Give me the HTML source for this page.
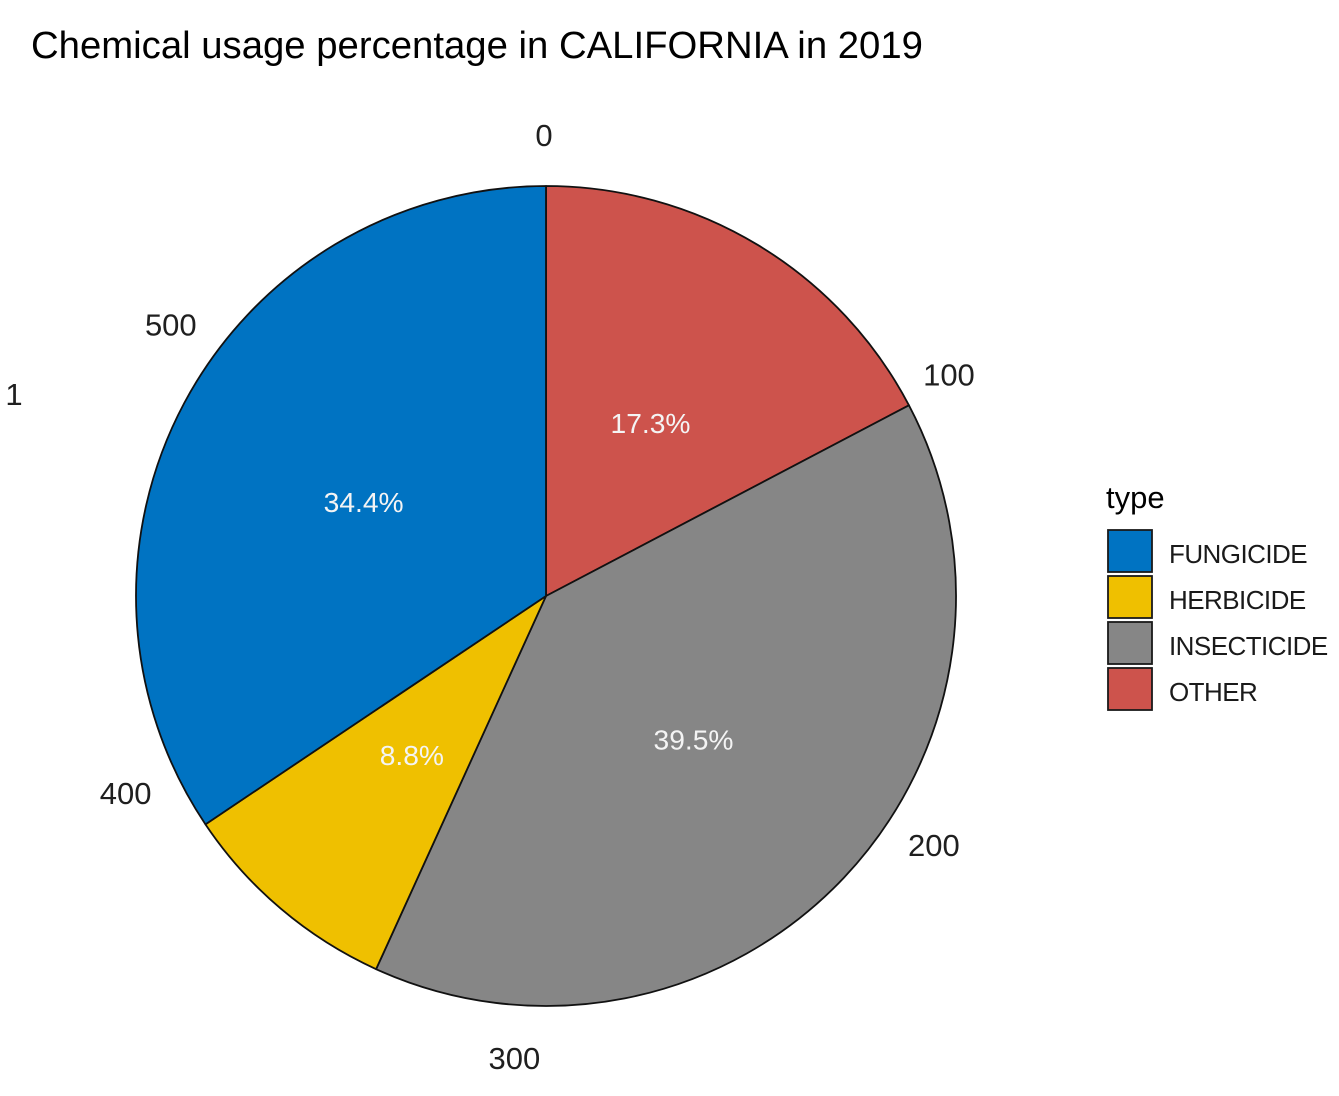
<!DOCTYPE html>
<html lang="en">
<head>
<meta charset="utf-8">
<title>Chemical usage percentage in CALIFORNIA in 2019</title>
<style>
html,body{margin:0;padding:0;background:#fff;}
body{width:1339px;height:1096px;overflow:hidden;}
svg{display:block;font-family:"Liberation Sans",Arial,sans-serif;}
</style>
</head>
<body>
<svg id="chart" xmlns="http://www.w3.org/2000/svg" width="1339" height="1096" viewBox="0 0 1339 1096">
  <rect x="0" y="0" width="1339" height="1096" fill="#ffffff"/>
  <text x="31" y="58" font-size="38.3" fill="#000000">Chemical usage percentage in CALIFORNIA in 2019</text>
  <g id="slices"></g>
  <g id="slice-labels"></g>
  <g id="ticks"></g>
  <text x="14" y="405" font-size="31" fill="#1f1f1f" text-anchor="middle">1</text>
  <g id="legend">
    <text x="1106" y="508" font-size="31" fill="#000000">type</text>
  </g>
</svg>
<script>
const legendTypes = ['FUNGICIDE', 'HERBICIDE', 'INSECTICIDE', 'OTHER'];
const legendColors = ['#0073C2', '#EFC000', '#868686', '#CD534C'];
const sliceTypes = ['OTHER', 'INSECTICIDE', 'HERBICIDE', 'FUNGICIDE'];
const sliceShares = [17.3, 39.5, 8.8, 34.4];
const tickValues = [0, 100, 200, 300, 400, 500];
const axisTotal = 588;

const NS = 'http://www.w3.org/2000/svg';
const CX = 546, CY = 596, R = 410, LABEL_R = 205, TICK_R = 462;
const shareTotal = sliceShares.reduce(function (a, b) { return a + b; }, 0);

function colorFor(type) { return legendColors[legendTypes.indexOf(type)]; }
function polar(angle, r) { return [CX + r * Math.sin(angle), CY - r * Math.cos(angle)]; }
function shareAngle(v) { return v / shareTotal * 2 * Math.PI; }
function tickAngle(v) { return v / axisTotal * 2 * Math.PI; }
function make(tag, attrs, text) {
  const el = document.createElementNS(NS, tag);
  Object.keys(attrs).forEach(function (k) { el.setAttribute(k, attrs[k]); });
  if (text !== undefined) el.textContent = text;
  return el;
}

const slicesG = document.getElementById('slices');
const sliceLabelsG = document.getElementById('slice-labels');
let cum = 0;
sliceShares.forEach(function (v, i) {
  const a0 = shareAngle(cum), a1 = shareAngle(cum + v), mid = (a0 + a1) / 2;
  const p0 = polar(a0, R), p1 = polar(a1, R);
  const large = (a1 - a0) > Math.PI ? 1 : 0;
  const d = 'M' + CX + ' ' + CY + 'L' + p0[0] + ' ' + p0[1] + 'A' + R + ' ' + R + ' 0 ' + large + ' 1 ' + p1[0] + ' ' + p1[1] + 'Z';
  const path = make('path', { d: d, fill: colorFor(sliceTypes[i]), stroke: '#111111', 'stroke-width': 1.8, 'stroke-linejoin': 'round' });
  
  
  slicesG.appendChild(path);
  const lp = polar(mid, LABEL_R);
  const label = make('text', { x: lp[0] - 1.5, y: lp[1] + 12.5, 'font-size': 28.2, fill: '#f4f4f4', 'text-anchor': 'middle' }, v.toFixed(1) + '%');
  
  
  sliceLabelsG.appendChild(label);
  cum += v;
});

const ticksG = document.getElementById('ticks');
tickValues.forEach(function (t) {
  const p = polar(tickAngle(t), TICK_R);
  const tick = make('text', { x: p[0] - 2, y: p[1] + 12, 'font-size': 31, fill: '#1f1f1f', 'text-anchor': 'middle' }, String(t));
  
  
  ticksG.appendChild(tick);
});

const legendG = document.getElementById('legend');
legendTypes.forEach(function (type, i) {
  const y = 530 + i * 46;
  const key = make('rect', { x: 1108, y: y, width: 44, height: 42, fill: legendColors[i], stroke: '#1a1a1a', 'stroke-width': 1.8 });
  
  
  legendG.appendChild(key);
  const label = make('text', { x: 1169, y: y + 33, 'font-size': 26, 'letter-spacing': -0.55, fill: '#1a1a1a' }, type);
  
  
  legendG.appendChild(label);
});
</script>
</body>
</html>
